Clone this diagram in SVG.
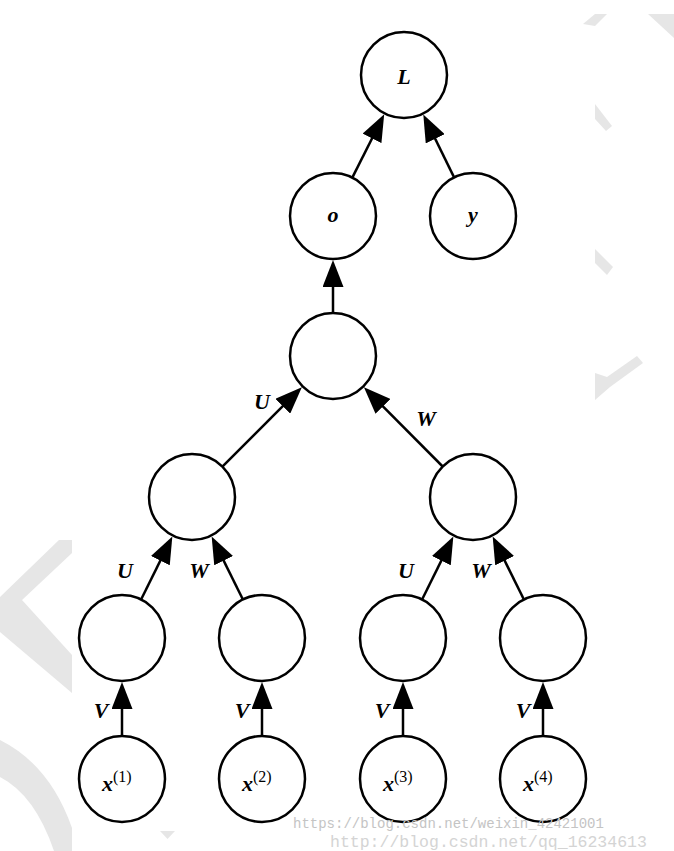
<svg xmlns="http://www.w3.org/2000/svg" width="674" height="851" viewBox="0 0 674 851">
<style>
.bg{fill:#e6e6e6;stroke:none}
.node circle{fill:#fff;stroke:#000;stroke-width:2.5}
.node text,.lbl{font-family:"Liberation Serif","DejaVu Serif",serif;font-weight:bold;font-style:italic;font-size:22px;fill:#000}
.lbl{text-anchor:middle}
.xv{font-size:24px}
.sup{font-family:"Liberation Serif","DejaVu Serif",serif;font-style:normal;font-weight:normal;font-size:16px}
.edge{stroke:#000;stroke-width:2.5;fill:none;marker-end:url(#ah)}
.wm{font-family:"Liberation Mono","DejaVu Sans Mono",monospace}
</style>
<defs>
<marker id="ah" markerUnits="userSpaceOnUse" viewBox="0 0 27 21" markerWidth="27" markerHeight="21" refX="17" refY="10.5" orient="auto">
<path d="M0,0 L27,10.5 L0,21 Z" fill="#000"/>
</marker>
</defs>
<rect width="674" height="851" fill="#fff"/>
<g id="watermark-shapes">
<polygon class="bg" points="583,24 595,14 607,14 595,26"/>
<polygon class="bg" points="648,14 674,14 674,38"/>
<polygon class="bg" points="595,104 612,126 606,131 595,119"/>
<polygon class="bg" points="595,249 613,267 607,275 595,263"/>
<polygon class="bg" points="595,373 607,377 637,356 643,363 610,387 595,400"/>
<polygon class="bg" points="59,540 72,540 72,553 22,600 72,655 72,693 0,632 0,597"/>
<path class="bg" d="M0,740 Q50,765 72,828 L72,851 L54,851 Q35,795 0,777 Z"/>
<polygon class="bg" points="160,831 175,831 167.5,839"/>
</g>
<g id="connectors">
<line class="edge" x1="352.3" y1="177.6" x2="379.7" y2="123.2"/>
<line class="edge" x1="454.1" y1="177.4" x2="427.7" y2="123.5"/>
<line class="edge" x1="333" y1="313" x2="333" y2="270"/>
<line class="edge" x1="222.4" y1="466.6" x2="294.8" y2="394.2"/>
<line class="edge" x1="442.7" y1="466.5" x2="371.0" y2="394.3"/>
<line class="edge" x1="141.1" y1="599.5" x2="167.9" y2="545.4"/>
<line class="edge" x1="242.9" y1="599.5" x2="216.1" y2="545.4"/>
<line class="edge" x1="422.1" y1="599.5" x2="448.9" y2="545.4"/>
<line class="edge" x1="523.9" y1="599.5" x2="497.1" y2="545.4"/>
<line class="edge" x1="122" y1="736" x2="122" y2="692"/>
<line class="edge" x1="262" y1="736" x2="262" y2="692"/>
<line class="edge" x1="403" y1="736" x2="403" y2="692"/>
<line class="edge" x1="543" y1="736" x2="543" y2="692"/>
</g>
<g id="edge-labels">
<text class="lbl" x="262" y="409">U</text>
<text class="lbl" x="426" y="426">W</text>
<text class="lbl" x="125" y="578">U</text>
<text class="lbl" x="199" y="578">W</text>
<text class="lbl" x="406" y="578">U</text>
<text class="lbl" x="481" y="578">W</text>
<text class="lbl" x="101" y="718">V</text>
<text class="lbl" x="242" y="718">V</text>
<text class="lbl" x="382" y="718">V</text>
<text class="lbl" x="523" y="718">V</text>
</g>
<g id="node-L" class="node"><circle cx="404" cy="75" r="43"/><text x="404" y="84" text-anchor="middle">L</text></g>
<g id="node-o" class="node"><circle cx="333" cy="216" r="43"/><text x="333" y="222" text-anchor="middle">o</text></g>
<g id="node-y" class="node"><circle cx="473" cy="216" r="43"/><text x="473" y="222" text-anchor="middle">y</text></g>
<g id="node-h3" class="node"><circle cx="333" cy="356" r="43"/></g>
<g id="node-h2a" class="node"><circle cx="192" cy="497" r="43"/></g>
<g id="node-h2b" class="node"><circle cx="473" cy="497" r="43"/></g>
<g id="node-h1a" class="node"><circle cx="122" cy="638" r="43"/></g>
<g id="node-h1b" class="node"><circle cx="262" cy="638" r="43"/></g>
<g id="node-h1c" class="node"><circle cx="403" cy="638" r="43"/></g>
<g id="node-h1d" class="node"><circle cx="543" cy="638" r="43"/></g>
<g id="node-x1" class="node"><circle cx="122" cy="779" r="43"/><text class="xv" x="102" y="791">x<tspan class="sup" dy="-9">(1)</tspan></text></g>
<g id="node-x2" class="node"><circle cx="262" cy="779" r="43"/><text class="xv" x="242" y="791">x<tspan class="sup" dy="-9">(2)</tspan></text></g>
<g id="node-x3" class="node"><circle cx="403" cy="779" r="43"/><text class="xv" x="383" y="791">x<tspan class="sup" dy="-9">(3)</tspan></text></g>
<g id="node-x4" class="node"><circle cx="543" cy="779" r="43"/><text class="xv" x="523" y="791">x<tspan class="sup" dy="-9">(4)</tspan></text></g>
<g id="watermark-text">
<text class="wm" x="293" y="828" font-size="14" fill="#c4c4c4">https://blog.csdn.net/weixin_42421001</text>
<text class="wm" x="330" y="847" font-size="16.5" fill="#d4d4d4">http://blog.csdn.net/qq_16234613</text>
</g>
</svg>
